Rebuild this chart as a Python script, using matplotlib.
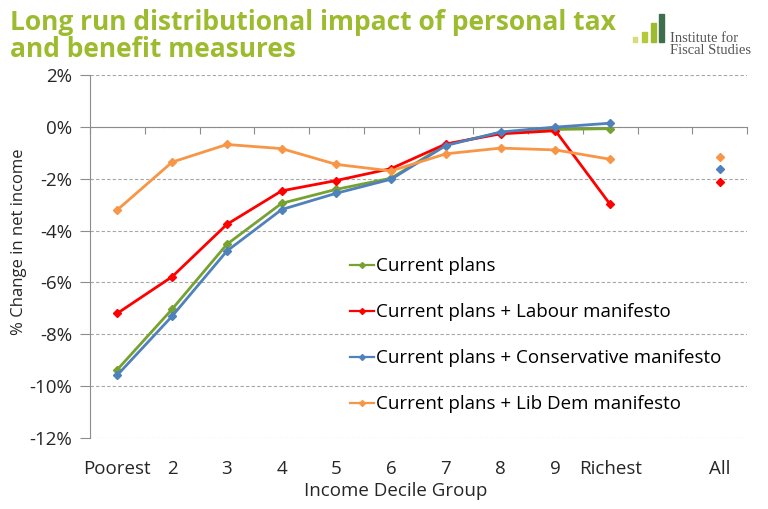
import matplotlib.pyplot as plt
from matplotlib.patches import Rectangle

plt.rcParams['font.family'] = ['Open Sans', 'DejaVu Sans']

# Categories on the x axis (slot 10 is left empty before "All")
categories = ["Poorest", "2", "3", "4", "5", "6", "7", "8", "9", "Richest", "", "All"]
decile_x = list(range(10))
all_x = 11

# % change in net income by decile, plus the "All" point
current = [-9.36, -7.03, -4.53, -2.95, -2.41, -1.98, -0.69, -0.22, -0.10, -0.07]
current_all = None
labour = [-7.19, -5.78, -3.76, -2.47, -2.07, -1.61, -0.66, -0.27, -0.15, -2.99]
labour_all = -2.11
conservative = [-9.57, -7.30, -4.79, -3.19, -2.56, -2.02, -0.72, -0.20, -0.01, 0.14]
conservative_all = -1.62
libdem = [-3.20, -1.36, -0.68, -0.84, -1.45, -1.70, -1.04, -0.82, -0.89, -1.25]
libdem_all = -1.17

series = [
    ("Current plans", current, current_all, "#77A22F"),
    ("Current plans + Labour manifesto", labour, labour_all, "#FF0000"),
    ("Current plans + Conservative manifesto", conservative, conservative_all, "#4F81BD"),
    ("Current plans + Lib Dem manifesto", libdem, libdem_all, "#F79646"),
]

fig = plt.figure(figsize=(7.68, 5.09), dpi=100)
ax = fig.add_axes([0.1172, 0.1395, 0.8555, 0.7132])

for label, vals, all_val, col in series:
    ax.plot(decile_x, vals, color=col, lw=2.0, marker='D', ms=4, label=label, zorder=3)
    if all_val is not None:
        ax.plot([all_x], [all_val], color=col, marker='D', ms=4, ls='none', zorder=3)

ax.set_xlim(-0.5, 11.5)
ax.set_ylim(-12, 2)
ax.set_yticks(range(-12, 3, 2))
ax.set_yticklabels([f"{v}%" for v in range(-12, 3, 2)], fontsize=13.5)
ax.yaxis.grid(True, color="#A6A6A6", ls=(0, (3, 2)), lw=0.8)
ax.set_axisbelow(True)

# x axis line sits at 0%, with tick marks between categories
for s in ['top', 'right']:
    ax.spines[s].set_visible(False)
ax.spines['bottom'].set_position(('data', 0))
ax.spines['bottom'].set_color("#8C8C8C")
ax.spines['left'].set_color("#8C8C8C")
ax.set_xticks([i - 0.5 for i in range(13)])
ax.set_xticklabels([])
ax.tick_params(axis='x', direction='out', length=5, color="#8C8C8C")
ax.tick_params(axis='y', direction='out', length=7, color="#8C8C8C", pad=6, labelcolor="#262626")

sec = ax.secondary_xaxis('bottom')
sec.set_xticks(range(len(categories)))
sec.set_xticklabels(categories, fontsize=13.5, color="#262626")
sec.tick_params(length=0, pad=16)
sec.spines['bottom'].set_visible(False)
sec.set_xlabel("Income Decile Group", fontsize=13.5, color="#262626")
sec.xaxis.set_label_coords(0.466, -0.121, transform=ax.transAxes)

ax.set_ylabel("% Change in net income", fontsize=12, color="#262626")
ax.yaxis.set_label_coords(-0.096, 0.54)

leg = ax.legend(loc='upper left', bbox_to_anchor=(0.385, 0.519), frameon=False,
                fontsize=13.5, handlelength=1.23, handletextpad=0.15, labelspacing=1.5,
                borderaxespad=0)
for h in leg.legend_handles:
    h.set_linewidth(1.6)
    h.set_markersize(3)

fig.text(0.013, 0.982, "Long run distributional impact of personal tax\nand benefit measures",
         fontsize=19, fontweight='bold', color="#9DBB2E", va='top', ha='left',
         linespacing=1.0)

# IFS logo: four rising bars and the name
bars = [(633, 37, 4, 5, "#D6DC7A"), (642, 32, 5, 10, "#B5C83A"),
        (651, 23, 5, 19, "#9DBB2E"), (659, 14, 5, 28, "#3E6E4B")]
for x0, y0, w, h, c in bars:
    fig.patches.append(Rectangle((x0 / 768, 1 - (y0 + h) / 509), w / 768, h / 509,
                                 transform=fig.transFigure, color=c))
logo_font = ['Liberation Serif', 'DejaVu Serif']
fig.text(670 / 768, 1 - 42 / 509, "Institute for", fontsize=10.5, family=logo_font,
         color="#555555", va='baseline', ha='left')
fig.text(670 / 768, 1 - 54 / 509, "Fiscal Studies", fontsize=10.5, family=logo_font,
         color="#555555", va='baseline', ha='left')

fig.savefig("out.png", dpi=100)
